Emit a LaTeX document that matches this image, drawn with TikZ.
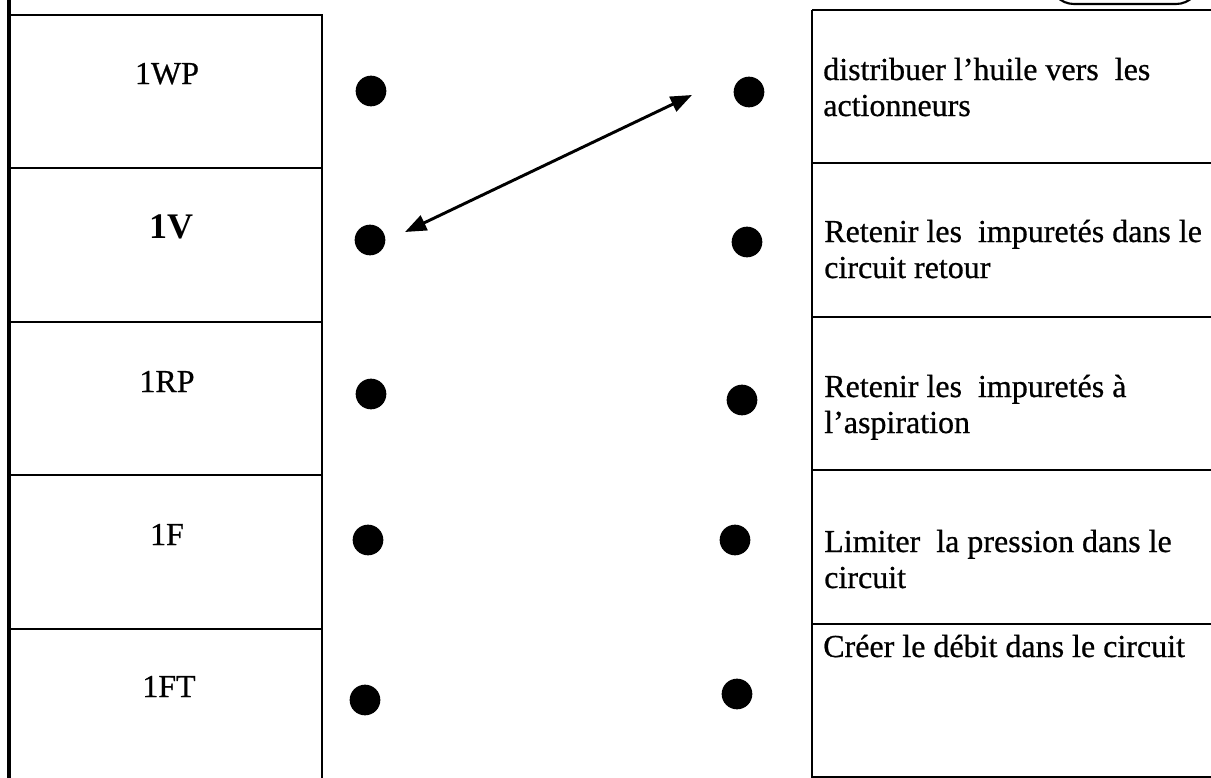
\documentclass[tikz,border=0pt]{standalone}
\usepackage{fontspec}
\setmainfont{Liberation Serif}[UprightFeatures={FakeBold=0.7}]
\usetikzlibrary{arrows.meta}
\begin{document}
\begin{tikzpicture}[x=0.75pt,y=-0.75pt,
  rule/.style={line width=2.2pt},
  thickrule/.style={line width=3.2pt},
  dotnode/.style={circle,fill=black,inner sep=0pt,minimum size=23pt},
  lbl/.style={inner sep=0pt,anchor=base,font=\fontsize{24}{27}\selectfont},
  fn/.style={inner sep=0pt,anchor=base west,font=\fontsize{24}{27}\selectfont},
  link/.style={line width=2.2pt,{Triangle[length=16pt,width=12pt]}-{Triangle[length=16pt,width=12pt]}}]
\useasboundingbox (0,0) rectangle (1211,778);
\clip (0,0) rectangle (1211,778);
% left table
\draw[thickrule] (9,0) -- (9,780);
\draw[rule] (9,15) -- (322,15) -- (322,780);
\foreach \yy in {168,322,475,629} \draw[rule] (9,\yy) -- (322,\yy);
% right table
\draw[rule] (812,10) -- (1215,10);
\draw[rule] (812,10) -- (812,780);
\draw[rule] (812,777) -- (1215,777);
\foreach \yy in {163,317,470,624} \draw[rule] (812,\yy) -- (1215,\yy);
% top right rounded shape
\draw[line width=1.6pt,rounded corners=18pt] (1050,-40) rectangle (1200,4);
% left labels
\node[lbl] (t1) at (167,84) {1WP};
\node[lbl,font=\fontsize{27}{29}\bfseries] (t2) at (171,238) {1V};
\node[lbl] (t3) at (167,392) {1RP};
\node[lbl] (t4) at (167,545) {1F};
\node[lbl] (t5) at (169,697) {1FT};
% right labels
\node[fn] (f1) at (823,80) {\vtop{\hbox{distribuer l’huile vers\ \ les}\hbox{actionneurs}}};
\node[fn] (f2) at (824,242) {\vtop{\hbox{Retenir les\ \ impuretés dans le}\hbox{circuit retour}}};
\node[fn] (f3) at (824,397) {\vtop{\hbox{Retenir les\ \ impuretés à}\hbox{l’aspiration}}};
\node[fn] (f4) at (824,552) {\vtop{\hbox{Limiter\ \ la pression dans le}\hbox{circuit}}};
\node[fn] (f5) at (823,657) {Créer le débit dans le circuit};
% dots
\node[dotnode] (L1) at (371,91) {};
\node[dotnode] (L2) at (370,240) {};
\node[dotnode] (L3) at (371,394) {};
\node[dotnode] (L4) at (368,540) {};
\node[dotnode] (L5) at (365,700) {};
\node[dotnode] (R1) at (749,92) {};
\node[dotnode] (R2) at (747,242) {};
\node[dotnode] (R3) at (742,400) {};
\node[dotnode] (R4) at (735,540) {};
\node[dotnode] (R5) at (737,694) {};
% arrow
\coordinate (a1) at (405,232);
\coordinate (a2) at (692,95);
\draw[link] (a1) -- (a2);
\end{tikzpicture}
\end{document}
